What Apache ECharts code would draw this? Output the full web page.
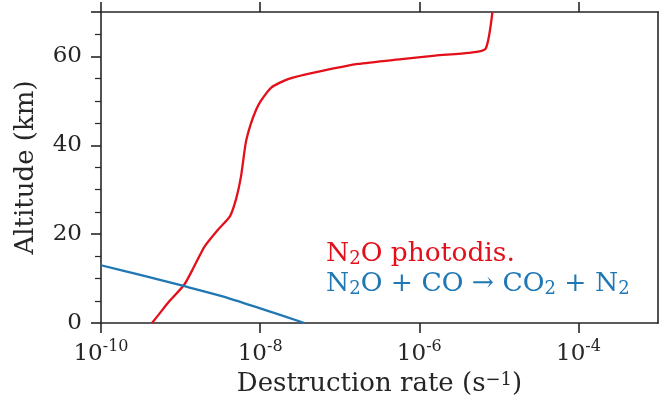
<!DOCTYPE html>
<html>
<head>
<meta charset="utf-8">
<script src="https://cdn.jsdelivr.net/npm/echarts@6/dist/echarts.min.js"></script>
<style>html,body{margin:0;padding:0;background:#fff}#c{width:659px;height:410px}</style>
</head>
<body>
<div id="c"></div>
<script>
// N2O photodissociation rate profile
var photoRates = [4.37e-10, 5.37e-10, 6.84e-10, 1.11e-9, 1.48e-9, 2.0e-9, 2.95e-9, 4.17e-9, 5.0e-9, 5.75e-9, 6.6e-9, 7.6e-9, 8.9e-9, 1.02e-8, 1.38e-8, 2.24e-8, 4.9e-8, 1.7e-7, 6.0e-7, 1.58e-6, 4.2e-6, 6.8e-6, 8.3e-6];
var photoAlts  = [0, 2, 4.4, 8.6, 12.7, 17.2, 21, 24, 28, 33, 40.6, 44.7, 48, 50, 53, 54.9, 56.4, 58.3, 59.4, 60.2, 60.8, 61.7, 70];
// N2O + CO -> CO2 + N2 rate profile
var coRates = [1e-10, 3.2e-10, 1e-9, 3.2e-9, 1e-8, 3.6e-8];
var coAlts  = [13, 10.75, 8.5, 6.1, 3.3, 0];
var xTickValues = [1e-10, 1e-8, 1e-6, 1e-4];

function pairs(xs, ys){ return xs.map(function(v,i){ return [v, ys[i]]; }); }

var FONT = 'DejaVu Serif';
var TXT = '#262626';
var RED = '#e3101b';
var BLUE = '#1f77b4';

var chart = echarts.init(document.getElementById('c'), null, {renderer:'canvas'});
var xCommon = {
  type: 'log', logBase: 10, min: 1e-10, max: 1e-3,
  axisLine: {show: true, onZero: false, lineStyle: {color: TXT, width: 1.6}},
  axisTick: {show: true, inside: false, length: 10, customValues: xTickValues, lineStyle: {color: TXT, width: 1.6}},
  splitLine: {show: false}, minorTick: {show: false}
};
var option = {
  animation: false,
  grid: {left: 101, right: 1, top: 12, bottom: 87, containLabel: false},
  xAxis: [
    Object.assign({}, xCommon, {
      position: 'bottom',
      name: 'Destruction rate (s{sup|\u22121})',
      nameLocation: 'middle', nameGap: 48,
      nameTextStyle: {fontFamily: FONT, fontSize: 26, color: TXT,
        rich: {sup: {fontFamily: FONT, fontSize: 18, color: TXT, verticalAlign: 'top', lineHeight: 14}}},
      axisLabel: {show: true, margin: 16, fontFamily: FONT, color: TXT, customValues: xTickValues,
        formatter: function(v){
          var e = Math.round(Math.log10(v));
          return '{b|10}{s|' + (e < 0 ? '-' : '') + Math.abs(e) + '}';
        },
        rich: {
          b: {fontFamily: FONT, fontSize: 23, color: TXT, lineHeight: 27, verticalAlign: 'bottom'},
          s: {fontFamily: FONT, fontSize: 16, color: TXT, lineHeight: 14, verticalAlign: 'top'}
        }}
    }),
    Object.assign({}, xCommon, {position: 'top', axisLabel: {show: false}})
  ],
  yAxis: [
    {
      type: 'value', min: 0, max: 70, interval: 20, position: 'left',
      name: 'Altitude (km)', nameLocation: 'middle', nameGap: 62, nameRotate: 90,
      nameTextStyle: {fontFamily: FONT, fontSize: 26, color: TXT},
      axisLine: {show: true, onZero: false, lineStyle: {color: TXT, width: 1.6}},
      axisTick: {show: true, inside: false, length: 10, lineStyle: {color: TXT, width: 1.6}},
      minorTick: {show: true, splitNumber: 4, length: 6, lineStyle: {color: TXT, width: 1.2}},
      axisLabel: {show: true, margin: 19, fontFamily: FONT, fontSize: 23, color: TXT,
        formatter: function(v){ return v === 70 ? '' : String(v); }},
      splitLine: {show: false}
    },
    {
      type: 'value', min: 0, max: 70, position: 'right',
      axisLine: {show: true, onZero: false, lineStyle: {color: TXT, width: 1.6}},
      axisTick: {show: false}, axisLabel: {show: false}, splitLine: {show: false}
    }
  ],
  series: [
    {name: 'N2O photodis.', type: 'line', xAxisIndex: 0, yAxisIndex: 0,
     data: pairs(photoRates, photoAlts), showSymbol: false, smooth: 0.2, clip: true,
     lineStyle: {color: RED, width: 2.3}},
    {name: 'N2O + CO -> CO2 + N2', type: 'line', xAxisIndex: 0, yAxisIndex: 0,
     data: pairs(coRates, coAlts), showSymbol: false, smooth: 0.3, clip: true,
     lineStyle: {color: BLUE, width: 2.3}}
  ],
  graphic: [
    {type: 'text', left: 326, top: 241, style: {
      text: '{a|N}{s|2}{a|O photodis.}',
      rich: {a: {fontFamily: FONT, fontSize: 26.5, fill: RED, lineHeight: 30, verticalAlign: 'bottom'},
             s: {fontFamily: FONT, fontSize: 18, fill: RED, lineHeight: 14, verticalAlign: 'bottom'}}}},
    {type: 'text', left: 326, top: 271, style: {
      text: '{a|N}{s|2}{a|O + CO \u2192 CO}{s|2}{a| + N}{s|2}',
      rich: {a: {fontFamily: FONT, fontSize: 26.5, fill: BLUE, lineHeight: 30, verticalAlign: 'bottom'},
             s: {fontFamily: FONT, fontSize: 18, fill: BLUE, lineHeight: 14, verticalAlign: 'bottom'}}}}
  ]
};
chart.setOption(option);
</script>
</body>
</html>
